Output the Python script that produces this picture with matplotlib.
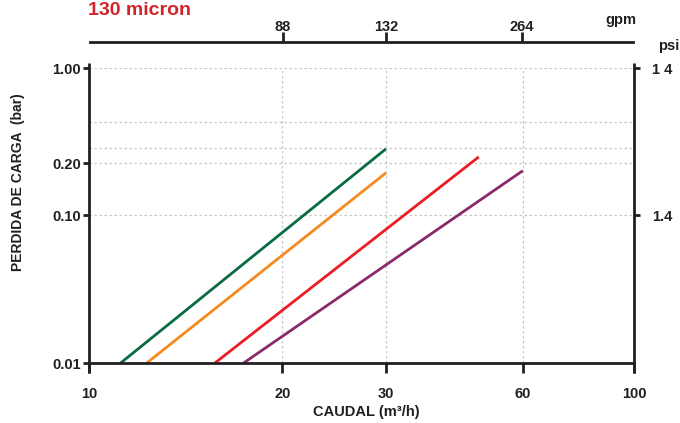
import numpy as np
import matplotlib
matplotlib.use("Agg")
import matplotlib.pyplot as plt

plt.rcParams['font.family'] = ['Liberation Sans Narrow', 'Liberation Sans', 'DejaVu Sans']
plt.rcParams['font.weight'] = 'bold'

# ---- data ----
series_names = ["green", "orange", "red", "purple"]
flow_start = [11.2, 12.3, 15.7, 17.4]      # m3/h at 0.01 bar
flow_end = [30, 30, 48, 60]               # m3/h
loss_start = [0.01, 0.01, 0.01, 0.01]     # bar
loss_end = [0.246, 0.176, 0.219, 0.181]   # bar
colors = ["#0a6b41", "#f58a1f", "#ec1c24", "#8a2a6a"]

x_ticks = [10, 20, 30, 60, 100]
x_ticklabels = ["10", "20", "30", "60", "100"]
y_ticks = [0.01, 0.10, 0.20, 1.00]
y_ticklabels = ["0.01", "0.10", "0.20", "1.00"]
gpm_ticks = [20, 30, 60]
gpm_labels = ["88", "132", "264"]
psi_ticks = [1.0, 0.1]
psi_labels = ["1 4", "1.4"]
hgrid = [1.0, 0.38, 0.25, 0.2, 0.1]
vgrid = [20, 30, 60]

# ---- warped log scale (as printed in the chart) ----
anch_log = np.log10([1, 2, 3, 6, 10])
anch_pos = np.array([0, 0.355, 0.545, 0.796, 1.0])

def fwd(v):
    v = np.asarray(v, float)
    l = np.log10(np.clip(v, 1e-12, None))
    d = np.floor(l + 1e-9)
    return d + np.interp(l - d, anch_log, anch_pos)

def inv(u):
    u = np.asarray(u, float)
    d = np.floor(u + 1e-9)
    return 10 ** (d + np.interp(u - d, anch_pos, anch_log))

W, H = 680, 423
fig = plt.figure(figsize=(6.8, 4.23), dpi=100)
L, R, T, B = 89, 634, 68, 363
ax = fig.add_axes([L / W, 1 - B / H, (R - L) / W, (B - T) / H])
ax.set_xscale('function', functions=(fwd, inv))
ax.set_yscale('function', functions=(fwd, inv))
ax.set_xlim(10, 100)
ax.set_ylim(0.01, 1.0)

ink = "#231f20"
gcol = "#c8c8c8"
for yv in hgrid:
    ax.plot([10, 100], [yv, yv], color=gcol, lw=0.9, ls=(0, (2, 2)), zorder=1)
for xv in vgrid:
    ax.plot([xv, xv], [0.01, 1.0], color=gcol, lw=0.9, ls=(0, (2, 2)), zorder=1)

for i in range(len(series_names)):
    ax.plot([flow_start[i], flow_end[i]], [loss_start[i], loss_end[i]],
            color=colors[i], lw=2.0, solid_capstyle='butt', zorder=3)

for s in ['top', 'left', 'right']:
    ax.spines[s].set_visible(False)
ax.spines['bottom'].set_linewidth(2.0)
ax.spines['bottom'].set_color(ink)
ax.spines['bottom'].set_zorder(4)
hpx = B - T
for xa in (0, 1):
    ax.plot([xa, xa], [-10 / hpx, 1 + 5 / hpx], transform=ax.transAxes,
            color=ink, lw=2.0, clip_on=False, solid_capstyle='butt', zorder=4)

ax.set_xticks(x_ticks)
ax.set_xticklabels(x_ticklabels)
ax.xaxis.set_minor_locator(matplotlib.ticker.NullLocator())
ax.set_yticks(y_ticks)
ax.set_yticklabels(y_ticklabels)
ax.yaxis.set_minor_locator(matplotlib.ticker.NullLocator())
ax.tick_params(axis='x', direction='out', length=7, width=2.0, color=ink,
               labelsize=10.5, labelcolor=ink, pad=10)
ax.tick_params(axis='y', direction='out', length=4, width=2.0, color=ink,
               labelsize=10.5, labelcolor=ink, pad=2)

# right psi axis
axr = ax.twinx()
axr.set_yscale('function', functions=(fwd, inv))
axr.set_ylim(0.01, 1.0)
for s in axr.spines.values():
    s.set_visible(False)
axr.set_yticks(psi_ticks)
axr.set_yticklabels(psi_labels)
axr.yaxis.set_minor_locator(matplotlib.ticker.NullLocator())
axr.tick_params(axis='y', direction='out', length=4, width=2.0, color=ink,
                labelsize=10.5, labelcolor=ink, pad=9)

# top gpm axis
topy = 42.5
axt = fig.add_axes([(L + 1) / W, 1 - topy / H, (R - L - 2) / W, 0.0001])
axt.set_xscale('function', functions=(fwd, inv))
axt.set_xlim(10, 100)
axt.set_yticks([])
for s in ['top', 'left', 'right']:
    axt.spines[s].set_visible(False)
axt.spines['bottom'].set_linewidth(2.0)
axt.spines['bottom'].set_color(ink)
axt.patch.set_visible(False)
axt.set_xticks(gpm_ticks)
axt.set_xticklabels(gpm_labels)
axt.xaxis.set_minor_locator(matplotlib.ticker.NullLocator())
axt.tick_params(axis='x', bottom=True, top=False, labelbottom=False, labeltop=True,
                direction='in', length=7, width=2.0, color=ink,
                labelsize=10.5, labelcolor=ink, pad=6)

fig.text(621 / W, 1 - 20 / H, "gpm", ha='center', va='center', fontsize=10.5,
         color=ink, fontweight='bold')
fig.text(669 / W, 1 - 46 / H, "psi", ha='center', va='center', fontsize=10.5,
         color=ink, fontweight='bold')
fig.text(88 / W, 1 - 15 / H, "130 micron", ha='left', va='baseline', fontsize=14,
         color="#d2232a", fontweight='bold')
fig.text(18 / W, 1 - 182 / H, "PERDIDA DE CARGA  (bar)", rotation=90, ha='center',
         va='center', fontsize=10, color=ink, fontweight='bold')
fig.text(366 / W, 1 - 412 / H, "CAUDAL (m\u00b3/h)", ha='center', va='center',
         fontsize=10.5, color=ink, fontweight='bold')

fig.savefig("out.png", dpi=100)
